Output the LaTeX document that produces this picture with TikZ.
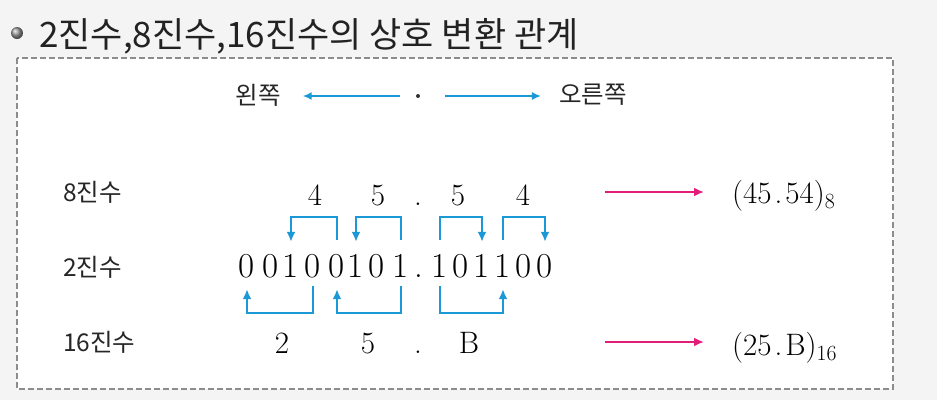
\documentclass[tikz,border=0pt]{standalone}
\usepackage{fontspec}
\newfontfamily\kr{Noto Sans CJK KR}
\usetikzlibrary{arrows.meta}
\definecolor{cblue}{RGB}{27,152,214}
\definecolor{cpink}{RGB}{226,30,122}
\definecolor{bggray}{RGB}{244,244,244}
\definecolor{titlecol}{RGB}{34,34,34}
\begin{document}
\begin{tikzpicture}[x=1pt,y=-1pt,
  lab/.style={font=\kr\fontsize{24.5}{24.5}\selectfont, inner sep=0pt, text=black!85},
  bin/.style={font=\fontsize{35}{35}\selectfont, inner sep=0pt, text height=23pt, text depth=0pt, anchor=base},
  num/.style={font=\fontsize{31}{31}\selectfont, inner sep=0pt, anchor=base},
  res/.style={font=\fontsize{31}{31}\selectfont, inner sep=0pt, anchor=base west},
  blarrow/.style={cblue, line width=1.6pt, -{Latex[length=9pt,width=8pt]}},
  brk/.style={cblue, line width=2pt, -{Latex[length=10pt,width=9pt]}},
  pkarrow/.style={cpink, line width=2pt, -{Latex[length=10pt,width=9pt]}},
  dbox/.style={draw=black!45, line width=1.6pt, dash pattern=on 6pt off 3pt, fill=white}]
\fill[bggray] (0,0) rectangle (937,400);
\useasboundingbox (0,0) rectangle (937,400);
\draw[dbox] (17,58) rectangle (893,389);
% title
\node[circle, minimum size=12pt, inner sep=0pt, shading=ball, ball color=black!40] (bullet) at (17,33) {};
\node[anchor=base west, inner sep=0pt, font=\kr\fontsize{35}{35}\selectfont, text=titlecol] (title) at (39,47) {2진수,8진수,16진수의 상호 변환 관계};
% direction row
\node[lab] (left) at (258,95) {왼쪽};
\node[lab] (right) at (593,95) {오른쪽};
\node[circle, fill=black!80, inner sep=0pt, minimum size=4pt] (mid) at (418,96) {};
\draw[blarrow, shorten <=18pt, shorten >=22pt] (mid.center) -- (mid.center -| left.east);
\draw[blarrow, shorten <=27pt, shorten >=18pt] (mid.center) -- (mid.center -| right.west);
% row labels
\node[lab, anchor=west] (l8) at (63,192) {8진수};
\node[lab, anchor=west] (l2) at (63,267) {2진수};
\node[lab, anchor=west] (l16) at (63,342) {16진수};
% octal digits
\node[num] (o1) at (315,205) {4};
\node[num] (o2) at (378,205) {5};
\node[num] (od) at (418,205) {.};
\node[num] (o3) at (458,205) {5};
\node[num] (o4) at (523,205) {4};
% binary digits
\node[bin] (b0) at (247,277) {0};
\node[bin] (b1) at (271,277) {0};
\node[bin] (b2) at (291,277) {1};
\node[bin] (b3) at (313,277) {0};
\node[bin] (b4) at (337,277) {0};
\node[bin] (b5) at (356,277) {1};
\node[bin] (b6) at (377,277) {0};
\node[bin] (b7) at (401,277) {1};
\node[bin] (bd) at (419,277) {.};
\node[bin] (b8) at (440,277) {1};
\node[bin] (b9) at (461,277) {0};
\node[bin] (b10) at (482,277) {1};
\node[bin] (b11) at (503,277) {1};
\node[bin] (b12) at (524,277) {0};
\node[bin] (b13) at (545,277) {0};
% hex digits
\node[num] (h1) at (282,353) {2};
\node[num] (h2) at (368,353) {5};
\node[num] (hd) at (418,353) {.};
\node[num] (h3) at (469,353) {B};
% octal brackets (binary -> octal groups)
\draw[brk] ([yshift=14pt]b4.north) -- ([yshift=37pt]b4.north) -| ([yshift=12pt]b2.north);
\draw[brk] ([yshift=14pt]b7.north) -- ([yshift=37pt]b7.north) -| ([yshift=12pt]b5.north);
\draw[brk] ([yshift=14pt]b8.north) -- ([yshift=37pt]b8.north) -| ([yshift=12pt]b10.north);
\draw[brk] ([yshift=14pt]b11.north) -- ([yshift=37pt]b11.north) -| ([yshift=12pt]b13.north);
% hex brackets
\draw[brk] ([yshift=-9pt]b3.south) -- ([yshift=-36pt]b3.south) -| ([yshift=-12pt]b0.south);
\draw[brk] ([yshift=-9pt]b7.south) -- ([yshift=-36pt]b7.south) -| ([yshift=-12pt]b4.south);
\draw[brk] ([yshift=-9pt]b8.south) -- ([yshift=-36pt]b8.south) -| ([yshift=-12pt]b11.south);
% results
\node[res] (r8) at (732,203) {(45\kern3pt.\kern3pt54)$_{\mathrm{8}}$};
\node[res] (r16) at (732,355) {(25\kern3pt.\kern3pt B)$_{\mathrm{16}}$};
\coordinate (p8) at (605,192);
\coordinate (p16) at (605,342);
\draw[pkarrow, shorten >=28pt] (p8) -- (p8 -| r8.west);
\draw[pkarrow, shorten >=28pt] (p16) -- (p16 -| r16.west);
\end{tikzpicture}
\end{document}
